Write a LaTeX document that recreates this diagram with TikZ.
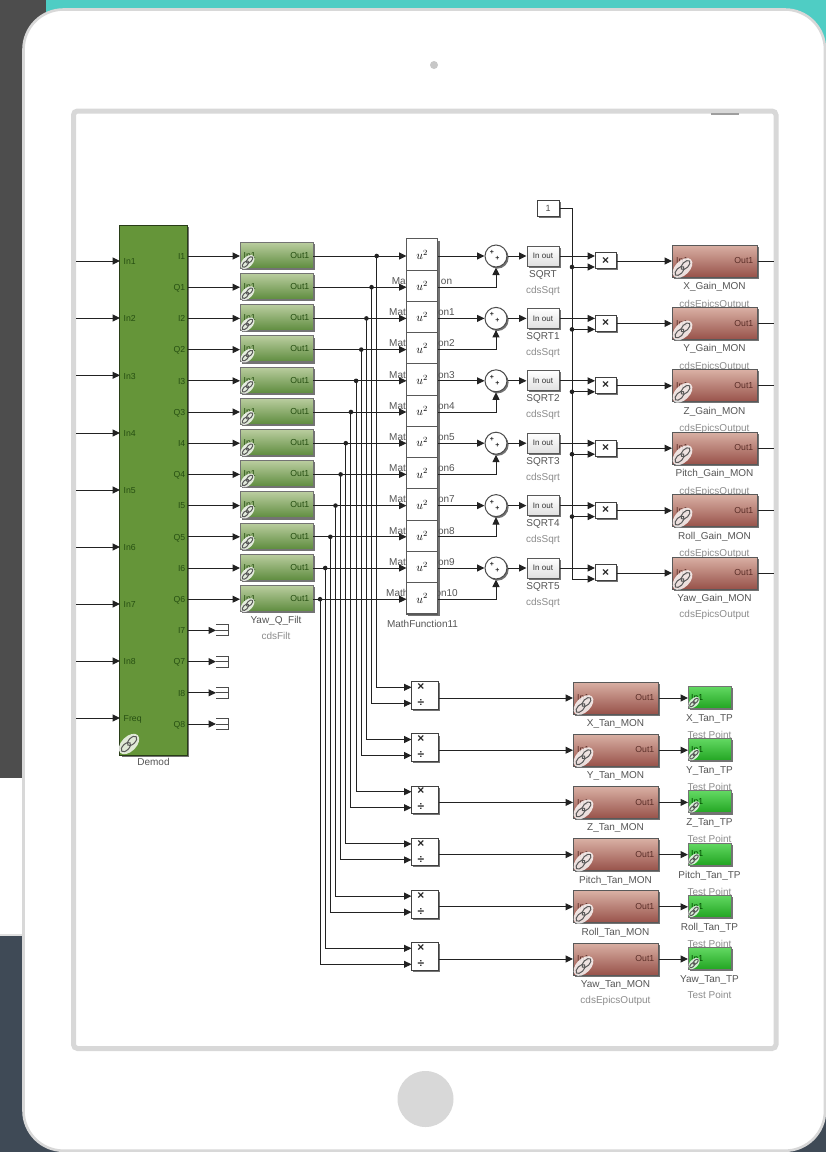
\documentclass[tikz,border=0pt]{standalone}
\usepackage{fontspec}
\setmainfont{Liberation Sans}
\usetikzlibrary{arrows.meta,shadows,calc}
\definecolor{bgdark}{HTML}{4D4D4D}
\definecolor{bgteal}{HTML}{4FCDC4}
\definecolor{bgslate}{HTML}{3F4A56}
\definecolor{frameg}{HTML}{D8D8D8}
\definecolor{wire}{HTML}{222222}
\definecolor{demodg}{HTML}{659539}
\definecolor{labg}{HTML}{555555}
\definecolor{subg}{HTML}{8C8C8C}
\definecolor{porttg}{HTML}{264F12}
\definecolor{porttr}{HTML}{5A2E28}
\definecolor{filttop}{HTML}{BACD9F}
\definecolor{filtbot}{HTML}{5E8C3E}
\definecolor{montop}{HTML}{D9B0A4}
\definecolor{monmid}{HTML}{BE857A}
\definecolor{monbot}{HTML}{98524A}
\definecolor{tptop}{HTML}{62D862}
\definecolor{tpbot}{HTML}{22A522}
\tikzset{
  x=1pt,y=-1pt,
  wirel/.style={draw=wire,line width=1pt},
  arr/.style={wirel,-{Stealth[length=7.5pt,width=7pt,inset=0pt]}},
  shad/.style={drop shadow={shadow xshift=1.6pt,shadow yshift=-1.6pt,fill=black,opacity=.55}},
  lab/.style={font=\fontsize{10}{12}\selectfont,text=labg,inner sep=0pt,text height=7pt,text depth=2pt},
  subl/.style={lab,text=subg},
  portg/.style={font=\fontsize{8.7}{10}\selectfont,text=porttg,inner sep=0pt,text height=6.5pt,text depth=1pt},
  portr/.style={portg,text=porttr},
  filtblock/.style={shad,draw=black!55,line width=1pt,top color=filttop,bottom color=filtbot,minimum width=73pt,minimum height=26pt,inner sep=0pt},
  monblock/.style={shad,draw=black!65,line width=1pt,top color=montop,middle color=monmid,bottom color=monbot,minimum width=85pt,minimum height=32pt,inner sep=0pt},
  tpblock/.style={shad,draw=black!55,line width=1pt,top color=tptop,bottom color=tpbot,minimum width=43pt,minimum height=22pt,inner sep=0pt},
  wblock/.style={shad,draw=black!75,line width=1pt,fill=white,inner sep=0pt},
  mathblock/.style={draw=black!65,line width=1pt,fill=white,inner sep=0pt,minimum width=31.5pt,minimum height=31.25pt},
  sqblock/.style={shad,draw=black!65,line width=1pt,top color=white,bottom color=black!12,minimum width=32pt,minimum height=20pt,inner sep=0pt,font=\fontsize{8}{10}\selectfont,text=black!80},
  sumblock/.style={shad,circle,draw=black!70,line width=1pt,fill=white,minimum size=22pt,inner sep=0pt},
  opsym/.style={font=\bfseries\fontsize{12}{14}\selectfont,text=black!85,inner sep=0pt},
  plusym/.style={font=\bfseries\fontsize{7}{8}\selectfont,text=black!85,inner sep=0pt},
}
\newcommand{\lnkicon}[3]{%
  \begin{scope}[shift={(#1,#2)},scale=#3]
    \fill[white,opacity=.8,rotate=45] (0,0) ellipse (8 and 4.8);
    \draw[black!65,line width=1pt,rotate=45] (-2.8,0) ellipse (3.8 and 2);
    \draw[black!65,line width=1pt,rotate=45] (2.8,0) ellipse (3.8 and 2);
  \end{scope}}
\newcommand{\rowy}[1]{(256+31.2*(#1-1))}
\begin{document}
\begin{tikzpicture}
\useasboundingbox (0,0) rectangle (826,1152);
% page behind the device
\fill[white] (0,0) rectangle (826,1152);
\fill[bgdark] (0,0) rectangle (46,778);
\fill[bgteal] (46,0) rectangle (826,60);
\fill[bgslate] (0,936) rectangle (826,1152);
\fill[black!12] (0,933.5) rectangle (24,936);
% device
\draw[frameg,line width=2.6pt,fill=white,rounded corners=40pt] (23.5,9.5) rectangle (825,1150.7);
\node[circle,fill=black!22,minimum size=8pt,inner sep=0pt] (camera) at (434,65) {};
\node[circle,fill=frameg,minimum size=56pt,inner sep=0pt] (homebtn) at (425.5,1099) {};
\draw[frameg,line width=5pt,rounded corners=4pt] (73.5,111) rectangle (776,1048.5);
\fill[black!38] (711,113.2) rectangle (739,115);
% Demod
\node[shad,draw=black!60!demodg,line width=1pt,fill=demodg,minimum width=67.5pt,minimum height=530pt,inner sep=0pt] (demod) at (153.7,490) {};
\node[lab] (demodname) at (153.5,763) {Demod};
\foreach \i/\t/\yy in {1/In1/261,2/In2/318,3/In3/375.3,4/In4/433,5/In5/490,6/In6/547,7/In7/604,8/In8/661,9/Freq/718}{
  \coordinate (src\i) at (76,\yy);
  \coordinate (dst\i) at (120,\yy);
  \draw[arr] (src\i) -- (dst\i);
  \node[portg,anchor=west] (dlab\i) at (123.5,\yy+1) {\t};
}
\lnkicon{129}{744}{1.55}
\foreach \i/\t in {1/I1,2/Q1,3/I2,4/Q2,5/I3,6/Q3,7/I4,8/Q4,9/I5,10/Q5,11/I6,12/Q6,13/I7,14/Q7,15/I8,16/Q8}{
  \pgfmathsetmacro{\yy}{\rowy{\i}}
  \node[portg,anchor=east] (dout\i) at (185.5,\yy+0.5) {\t};
  \coordinate (do\i) at (187.7,\yy);
}
% terminators
\foreach \i in {13,14,15,16}{
  \pgfmathsetmacro{\yy}{\rowy{\i}}
  \coordinate (tm\i) at (216,\yy);
  \draw[arr] (do\i) -- (tm\i);
  \draw[black!70,line width=1pt] (216,\yy-5.5) -- (228,\yy-5.5) -- (228,\yy+5.5) -- (216,\yy+5.5) (216,\yy) -- (228,\yy);
}
% shadow of the math stack
\node[shad,fill=white,draw=black!65,line width=1pt,minimum width=31.5pt,minimum height=375pt,inner sep=0pt] (mstack) at (422.2,426.5) {};
% MathFunction labels peeking out on both sides of the stack
\foreach \i/\t/\lx/\rx in {1/on/391.7/452.3,2/on1/389/455,3/on2/389/455,4/on3/389/455,5/on4/389/455,6/on5/389/455,7/on6/389/455,8/on7/389/455,9/on8/389/455,10/on9/389/455,11/on10/386/458}{
  \pgfmathsetmacro{\yy}{282+31.2*(\i-1)}
  \node[lab,anchor=west] (mlabl\i) at (\lx,\yy) {Math};
  \node[lab,anchor=east] (mlabr\i) at (\rx,\yy) {\t};
}
\node[lab] (mlab12) at (422.5,624.5) {MathFunction11};
% filters, math stack, buses
\foreach \i in {1,...,12}{
  \pgfmathsetmacro{\yy}{\rowy{\i}}
  \pgfmathsetmacro{\my}{254.6+31.25*(\i-1)}
  \pgfmathsetmacro{\bx}{376.7-5.15*(\i-1)}
  \node[filtblock] (f\i) at (276.5,\yy-0.7) {};
  \node[portg,anchor=west] (fin\i) at (243.5,\yy-0.5) {In1};
  \node[portg,anchor=east] (fout\i) at (309.5,\yy-0.5) {Out1};
  \lnkicon{247.5}{\yy+6}{1.05}
  \coordinate (fi\i) at (240,\yy);
  \coordinate (fo\i) at (313,\yy);
  \draw[arr] (do\i) -- (fi\i);
  \node[mathblock] (m\i) at (422.2,\my) {\fontsize{12}{14}\selectfont$u^2$};
  \coordinate (mi\i) at (406.5,\yy);
  \coordinate (mo\i) at (438,\yy);
  \draw[arr] (fo\i) -- (mi\i);
  \coordinate (bus\i) at (\bx,\yy);
  \fill[wire] (bus\i) circle (2.3pt);
}
\node[lab] (filtname) at (276,621) {Yaw\_Q\_Filt};
\node[subl] (filtsub) at (276,637) {cdsFilt};
% constant
\node[wblock,minimum width=22pt,minimum height=16pt,font=\fontsize{9}{10}\selectfont,text=black!70] (const) at (548,208) {1};
\coordinate (vtop) at (572,208);
\coordinate (vbot) at (572,579.5);
\draw[wirel] (const.east) -- (vtop) -- (vbot);
% gain rows
\foreach \k/\n in {1/X,2/Y,3/Z,4/Pitch,5/Roll,6/Yaw}{
  \pgfmathsetmacro{\yy}{256+62.4*(\k-1)}
  \pgfmathsetmacro{\odd}{int(2*\k-1)}
  \pgfmathsetmacro{\eve}{int(2*\k)}
  \pgfmathsetmacro{\dy}{\k<6?48.5:46.5}
  \node[sumblock] (s\k) at (496,\yy) {};
  \node[plusym] (sp\k) at (492,\yy-3.5) {+};
  \node[plusym] (sq\k) at (497.5,\yy+2.5) {+};
  \draw[arr] (mo\odd) -- (s\k.west);
  \draw[arr] (mo\eve) -| (s\k.south);
  \ifnum\k=1 \def\sqn{SQRT}\else \pgfmathsetmacro{\kk}{int(\k-1)}\def\sqn{SQRT\kk}\fi
  \node[lab] (sqname\k) at (543,\yy+18.5) {\sqn};
  \node[subl] (sqsub\k) at (543,\yy+34.5) {cdsSqrt};
  \node[sqblock] (sq\k b) at (543,\yy) {In out};
  \draw[arr] (s\k.east) -- (sq\k b.west);
  \node[wblock,minimum width=21pt,minimum height=16pt] (gp\k) at (605.5,\yy+4.8) {};
  \node[opsym] (gx\k) at (605.5,\yy+4.5) {×};
  \coordinate (gpa\k) at (595,\yy);
  \coordinate (gpb\k) at (595,\yy+11);
  \coordinate (vj\k) at (572,\yy+11);
  \draw[arr] (sq\k b.east) -- (gpa\k);
  \draw[arr] (vj\k) -- (gpb\k);
  \ifnum\k<6 \fill[wire] (vj\k) circle (2.3pt);\fi
  \node[lab] (gname\k) at (714.5,\yy+31) {\n\_Gain\_MON};
  \node[subl] (gsub\k) at (714.5,\yy+\dy) {cdsEpicsOutput};
}
\foreach \k in {1,...,6}{
  \pgfmathsetmacro{\yy}{261+62.4*(\k-1)}
  \node[monblock] (g\k) at (714.5,\yy) {};
  \node[portr,anchor=east] (gout\k) at (753.5,\yy) {Out1};
  \node[portr,anchor=west] (gin\k) at (676,\yy) {In1};
  \lnkicon{682.5}{\yy+7}{1.5}
  \coordinate (gi\k) at (672,\yy);
  \coordinate (ge\k) at (773.5,\yy);
  \draw[arr] (gp\k.east |- gi\k) -- (gi\k);
  \draw[wirel] (g\k.east) -- (ge\k);
}
% tan rows
\foreach \k/\n in {1/X,2/Y,3/Z,4/Pitch,5/Roll,6/Yaw}{
  \pgfmathsetmacro{\yy}{698+52.2*(\k-1)}
  \pgfmathsetmacro{\dy}{\k<6?38:36.5}
  \node[wblock,minimum width=26.5pt,minimum height=27.5pt] (tp\k) at (425,\yy-2.5) {};
  \node[opsym] (tx\k) at (420.8,\yy-11) {×};
  \node[opsym] (td\k) at (420.8,\yy+5) {÷};
  \pgfmathsetmacro{\odd}{int(2*\k-1)}
  \pgfmathsetmacro{\eve}{int(2*\k)}
  \coordinate (tpa\k) at (411.5,\yy-10.7);
  \coordinate (tpb\k) at (411.5,\yy+5.3);
  \draw[arr] (bus\odd) |- (tpa\k);
  \draw[arr] (bus\eve) |- (tpb\k);
  \node[lab] (tname\k) at (615.5,\yy+26) {\n\_Tan\_MON};
  \ifnum\k=6 \node[subl] (tsub\k) at (615.5,\yy+41.5) {cdsEpicsOutput};\fi
  \node[lab] (pname\k) at (709.5,\yy+21) {\n\_Tan\_TP};
  \node[subl] (psub\k) at (709.5,\yy+\dy) {Test Point};
}
\foreach \k in {1,...,6}{
  \pgfmathsetmacro{\yy}{698+52.2*(\k-1)}
  \node[monblock] (t\k) at (615.5,\yy) {};
  \node[portr,anchor=east] (tout\k) at (654.5,\yy) {Out1};
  \node[portr,anchor=west] (tin\k) at (577,\yy) {In1};
  \lnkicon{583.5}{\yy+7}{1.5}
  \node[tpblock] (p\k) at (709.5,\yy-0.5) {};
  \node[portg,anchor=west,text=black!70!green] (pin\k) at (691,\yy-0.5) {In1};
  \lnkicon{694}{\yy+4.5}{0.85}
  \coordinate (ti\k) at (573,\yy);
  \coordinate (pi\k) at (688,\yy);
  \draw[arr] (tp\k.east |- ti\k) -- (ti\k);
  \draw[arr] (t\k.east) -- (pi\k);
}
\end{tikzpicture}
\end{document}
